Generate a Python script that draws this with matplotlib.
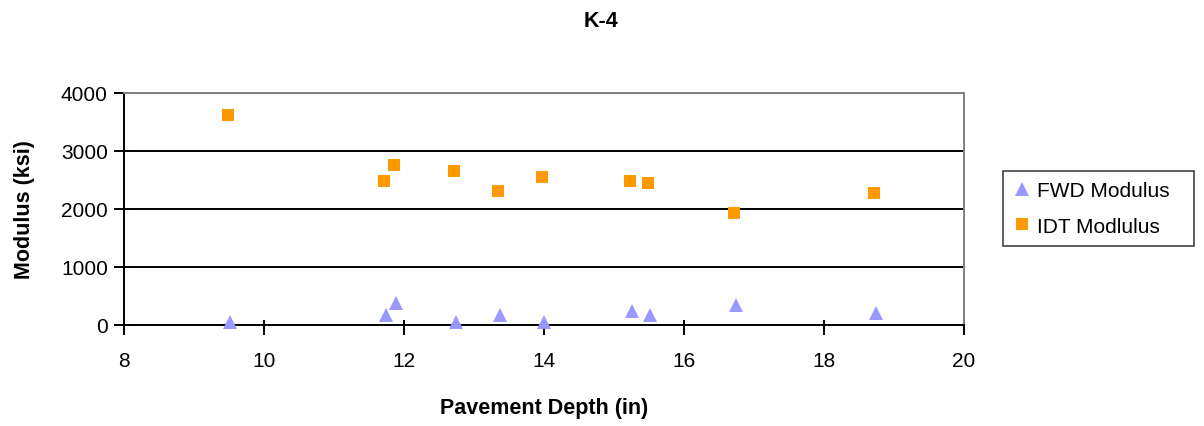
import matplotlib
matplotlib.use("Agg")
import matplotlib.pyplot as plt
from matplotlib.lines import Line2D
from matplotlib.ticker import FixedLocator

plt.rcParams['font.family'] = ['Liberation Sans', 'DejaVu Sans']

# Pavement depth (in) and modulus (ksi)
fwd_depth = [9.51, 11.74, 11.89, 12.74, 13.37, 14.0, 15.26, 15.51, 16.74, 18.74]
fwd_modulus = [50, 165, 375, 55, 170, 55, 235, 170, 340, 200]

idt_depth = [9.49, 11.71, 11.86, 12.71, 13.34, 13.97, 15.23, 15.49, 16.71, 18.71]
idt_modulus = [3620, 2480, 2760, 2655, 2310, 2550, 2480, 2450, 1930, 2275]

x_ticks = [8, 10, 12, 14, 16, 18, 20]
y_ticks = [0, 1000, 2000, 3000, 4000]

FWD_COLOR = '#9999FF'
IDT_COLOR = '#FF9900'

fig = plt.figure(figsize=(12.04, 4.27), dpi=100)
ax = fig.add_axes([0.103, 0.237, 0.6977, 0.543])

ax.set_xlim(8, 20)
ax.set_ylim(0, 4000)
ax.set_xticks(x_ticks)
ax.set_yticks(y_ticks)
ax.yaxis.grid(True, color='black', linewidth=1.4)
ax.set_axisbelow(True)

# short inner tick stubs at the same positions as the outer ticks
for axis, locs in ((ax.xaxis, x_ticks), (ax.yaxis, y_ticks)):
    axis.remove_overlapping_locs = False
    axis.set_minor_locator(FixedLocator(locs))

ax.plot(fwd_depth, fwd_modulus, linestyle='none', marker='^', markersize=9.8,
        color=FWD_COLOR, markeredgewidth=0, label='FWD Modulus', zorder=3,
        clip_on=False)
ax.plot(idt_depth, idt_modulus, linestyle='none', marker='s', markersize=8.6,
        color=IDT_COLOR, markeredgewidth=0, label='IDT Modlulus', zorder=3,
        clip_on=False)

for side in ('top', 'right'):
    ax.spines[side].set_color('#808080')
    ax.spines[side].set_linewidth(1.4)
for side in ('left', 'bottom'):
    ax.spines[side].set_color('black')
    ax.spines[side].set_linewidth(1.4)

ax.tick_params(axis='both', which='major', direction='out', length=7.2,
               width=1.4, labelsize=15, colors='black')
ax.tick_params(axis='both', which='minor', direction='in', length=3.6,
               width=1.4, colors='black', labelbottom=False, labelleft=False)
ax.tick_params(axis='y', which='major', pad=4.5)
ax.tick_params(axis='x', which='major', pad=12)

ax.set_xlabel('Pavement Depth (in)', fontsize=15.5, fontweight='bold', va='center')
ax.xaxis.set_label_coords(0.5, -0.356)
ax.set_ylabel('Modulus (ksi)', fontsize=15.5, fontweight='bold', va='center')
ax.yaxis.set_label_coords(-0.118, 0.5)

fig.text(0.499, 0.950, 'K-4', ha='center', va='center', fontsize=15.5,
         fontweight='bold')

handles = [
    Line2D([], [], linestyle='none', marker='^', markersize=9.5,
           color=FWD_COLOR, markeredgewidth=0),
    Line2D([], [], linestyle='none', marker='s', markersize=8,
           color=IDT_COLOR, markeredgewidth=0),
]
leg = fig.legend(handles, ['FWD Modulus', 'IDT Modlulus'], loc='center',
                 bbox_to_anchor=(0.833, 0.417, 0.1586, 0.185), mode='expand',
                 fontsize=15, frameon=True, fancybox=False, edgecolor='black',
                 handlelength=0.83, handletextpad=0.31, borderpad=0.5,
                 labelspacing=0.8, borderaxespad=0)
leg.get_frame().set_linewidth(1.1)

fig.savefig('out.png', dpi=100)
